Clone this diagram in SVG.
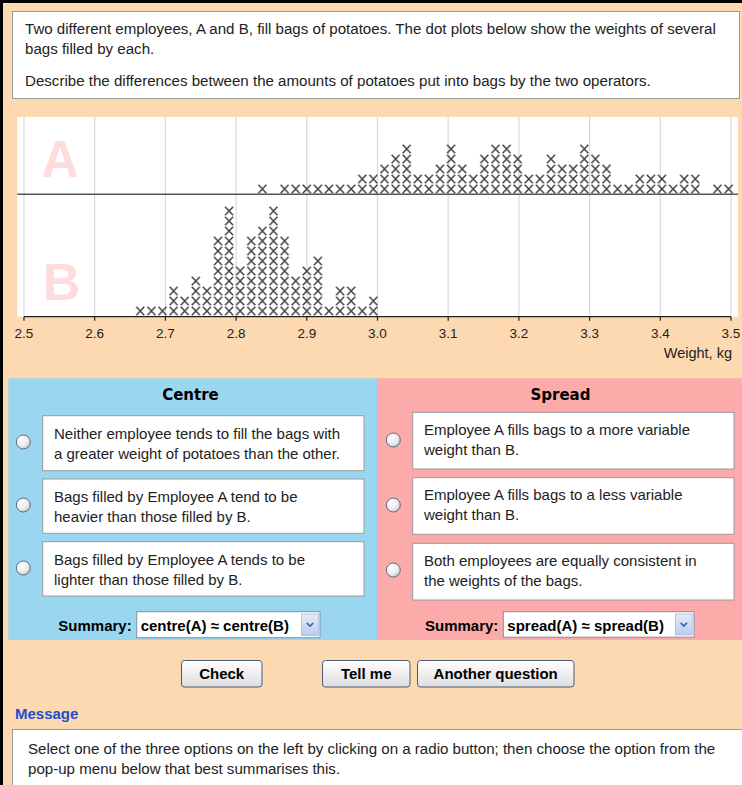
<svg xmlns="http://www.w3.org/2000/svg" width="742" height="785" viewBox="0 0 742 785">
<style>
.t{font-family:"Liberation Sans",Arial,sans-serif;font-size:15.1px;fill:#222}
.o{font-family:"Liberation Sans",Arial,sans-serif;font-size:15px;fill:#222}
.b{font-family:"Liberation Sans",Arial,sans-serif;font-size:15px;font-weight:bold;fill:#000}
.h{font-family:"DejaVu Sans",Verdana,sans-serif;font-size:15px;font-weight:bold;fill:#000}
.tk{font-family:"Liberation Sans",Arial,sans-serif;font-size:13.5px;fill:#222;text-anchor:middle}
.box{fill:#fff;stroke:#9a9a9a;stroke-width:1}
.grid{stroke:#dadada;stroke-width:1.2}
.big{font-family:"Liberation Sans",Arial,sans-serif;font-size:52px;font-weight:bold;fill:#ffdcdc;text-anchor:middle}
.radio{fill:url(#rg);stroke:#5d6d7e;stroke-width:1}
.btn{fill:url(#bg);stroke:#4a5a78;stroke-width:1}
.dd{fill:#fff;stroke:#7f8fa8;stroke-width:1}
.ddb{fill:url(#dg);stroke:#a9bbd8;stroke-width:0.8}
.chev{fill:none;stroke:#3b5da0;stroke-width:1.6}
.xa{fill:url(#xa)}
.xb{fill:url(#xb)}
</style>
<defs>
<radialGradient id="rg" cx="0.35" cy="0.3" r="0.8">
<stop offset="0" stop-color="#ffffff"/><stop offset="0.6" stop-color="#ececec"/><stop offset="1" stop-color="#bdbdbd"/>
</radialGradient>
<linearGradient id="bg" x1="0" y1="0" x2="0" y2="1">
<stop offset="0" stop-color="#ffffff"/><stop offset="1" stop-color="#dedede"/>
</linearGradient>
<linearGradient id="dg" x1="0" y1="0" x2="0" y2="1">
<stop offset="0" stop-color="#e4ecfa"/><stop offset="1" stop-color="#b9cdef"/>
</linearGradient>
<pattern id="xa" patternUnits="userSpaceOnUse" x="134.75" y="4" width="11.1" height="10">
<path d="M1.55,0.8L9.55,9.2M9.55,0.8L1.55,9.2" stroke="#444" stroke-width="1.5" fill="none"/>
</pattern>
<pattern id="xb" patternUnits="userSpaceOnUse" x="134.75" y="6" width="11.1" height="10">
<path d="M1.55,0.8L9.55,9.2M9.55,0.8L1.55,9.2" stroke="#444" stroke-width="1.5" fill="none"/>
</pattern>
</defs>

<rect x="0" y="0" width="742" height="785" fill="#fdd9b2"/>
<rect x="0" y="0" width="742" height="3" fill="#000"/>
<rect x="0" y="0" width="3" height="785" fill="#000"/>

<g id="question">
<rect class="box" x="12.5" y="11.5" width="727" height="87"/>
<text class="t" x="25" y="34">Two different employees, A and B, fill bags of potatoes. The dot plots below show the weights of several</text>
<text class="t" x="25" y="54">bags filled by each.</text>
<text class="t" x="25" y="86">Describe the differences between the amounts of potatoes put into bags by the two operators.</text>
</g>

<g id="dotplot">
<rect x="17.3" y="117" width="720.7" height="199.7" fill="#fff"/>
<g id="gridlines">
<line class="grid" x1="24" y1="117" x2="24" y2="316.7"/>
<line class="grid" x1="94.7" y1="117" x2="94.7" y2="316.7"/>
<line class="grid" x1="165.4" y1="117" x2="165.4" y2="316.7"/>
<line class="grid" x1="236.1" y1="117" x2="236.1" y2="316.7"/>
<line class="grid" x1="306.8" y1="117" x2="306.8" y2="316.7"/>
<line class="grid" x1="377.5" y1="117" x2="377.5" y2="316.7"/>
<line class="grid" x1="448.2" y1="117" x2="448.2" y2="316.7"/>
<line class="grid" x1="518.9" y1="117" x2="518.9" y2="316.7"/>
<line class="grid" x1="589.6" y1="117" x2="589.6" y2="316.7"/>
<line class="grid" x1="660.3" y1="117" x2="660.3" y2="316.7"/>
<line class="grid" x1="731" y1="117" x2="731" y2="316.7"/>
</g>
<text class="big" x="60" y="177">A</text>
<text class="big" x="61.5" y="300">B</text>
<line x1="17.3" y1="194.3" x2="738" y2="194.3" stroke="#555" stroke-width="1.6"/>

<g id="dots-A">
<rect class="xa" x="256.85" y="184" width="11.1" height="10"/>
<rect class="xa" x="279.05" y="184" width="77.7" height="10"/>
<rect class="xa" x="356.75" y="174" width="22.2" height="20"/>
<rect class="xa" x="378.95" y="164" width="11.1" height="30"/>
<rect class="xa" x="390.05" y="154" width="11.1" height="40"/>
<rect class="xa" x="401.15" y="144" width="11.1" height="50"/>
<rect class="xa" x="412.25" y="174" width="22.2" height="20"/>
<rect class="xa" x="434.45" y="164" width="11.1" height="30"/>
<rect class="xa" x="445.55" y="144" width="11.1" height="50"/>
<rect class="xa" x="456.65" y="164" width="11.1" height="30"/>
<rect class="xa" x="467.75" y="174" width="11.1" height="20"/>
<rect class="xa" x="478.85" y="154" width="11.1" height="40"/>
<rect class="xa" x="489.95" y="144" width="22.2" height="50"/>
<rect class="xa" x="512.15" y="154" width="11.1" height="40"/>
<rect class="xa" x="523.25" y="174" width="22.2" height="20"/>
<rect class="xa" x="545.45" y="154" width="11.1" height="40"/>
<rect class="xa" x="556.55" y="164" width="22.2" height="30"/>
<rect class="xa" x="578.75" y="144" width="11.1" height="50"/>
<rect class="xa" x="589.85" y="154" width="11.1" height="40"/>
<rect class="xa" x="600.95" y="164" width="11.1" height="30"/>
<rect class="xa" x="612.05" y="184" width="22.2" height="10"/>
<rect class="xa" x="634.25" y="174" width="33.3" height="20"/>
<rect class="xa" x="667.55" y="184" width="11.1" height="10"/>
<rect class="xa" x="678.65" y="174" width="22.2" height="20"/>
<rect class="xa" x="711.95" y="184" width="22.2" height="10"/>
</g>

<g id="dots-B">
<rect class="xb" x="134.75" y="306" width="33.3" height="10"/>
<rect class="xb" x="168.05" y="286" width="11.1" height="30"/>
<rect class="xb" x="179.15" y="296" width="11.1" height="20"/>
<rect class="xb" x="190.25" y="276" width="11.1" height="40"/>
<rect class="xb" x="201.35" y="286" width="11.1" height="30"/>
<rect class="xb" x="212.45" y="236" width="11.1" height="80"/>
<rect class="xb" x="223.55" y="206" width="11.1" height="110"/>
<rect class="xb" x="234.65" y="266" width="11.1" height="50"/>
<rect class="xb" x="245.75" y="236" width="11.1" height="80"/>
<rect class="xb" x="256.85" y="226" width="11.1" height="90"/>
<rect class="xb" x="267.95" y="206" width="11.1" height="110"/>
<rect class="xb" x="279.05" y="236" width="11.1" height="80"/>
<rect class="xb" x="290.15" y="276" width="11.1" height="40"/>
<rect class="xb" x="301.25" y="266" width="11.1" height="50"/>
<rect class="xb" x="312.35" y="256" width="11.1" height="60"/>
<rect class="xb" x="323.45" y="306" width="11.1" height="10"/>
<rect class="xb" x="334.55" y="286" width="22.2" height="30"/>
<rect class="xb" x="356.75" y="306" width="11.1" height="10"/>
<rect class="xb" x="367.85" y="296" width="11.1" height="20"/>
</g>

<g id="axis">
<line x1="24" y1="316.7" x2="731" y2="316.7" stroke="#222" stroke-width="1.3"/>
<path d="M24,316.7v4M94.7,316.7v4M165.4,316.7v4M236.1,316.7v4M306.8,316.7v4M377.5,316.7v4M448.2,316.7v4M518.9,316.7v4M589.6,316.7v4M660.3,316.7v4M731,316.7v4" stroke="#222" stroke-width="1.2"/>
<text class="tk" x="24" y="338">2.5</text>
<text class="tk" x="94.7" y="338">2.6</text>
<text class="tk" x="165.4" y="338">2.7</text>
<text class="tk" x="236.1" y="338">2.8</text>
<text class="tk" x="306.8" y="338">2.9</text>
<text class="tk" x="377.5" y="338">3.0</text>
<text class="tk" x="448.2" y="338">3.1</text>
<text class="tk" x="518.9" y="338">3.2</text>
<text class="tk" x="589.6" y="338">3.3</text>
<text class="tk" x="660.3" y="338">3.4</text>
<text class="tk" x="731" y="338">3.5</text>
<text class="tk" x="732" y="357.5" style="text-anchor:end;font-size:14.5px">Weight, kg</text>
</g>
</g>

<g id="centre-panel">
<rect x="8.3" y="378.3" width="368.7" height="261.7" fill="#9bd6f0"/>
<text class="h" x="190.5" y="400" text-anchor="middle">Centre</text>
<g id="centre-opt1">
<circle class="radio" cx="23.3" cy="442" r="7"/>
<rect class="box" x="42.7" y="415.7" width="321.3" height="55"/>
<text class="o" x="54" y="439">Neither employee tends to fill the bags with</text>
<text class="o" x="54" y="459">a greater weight of potatoes than the other.</text>
</g>
<g id="centre-opt2">
<circle class="radio" cx="23.3" cy="505" r="7"/>
<rect class="box" x="42.7" y="479" width="321.3" height="54.3"/>
<text class="o" x="54" y="502">Bags filled by Employee A tend to be</text>
<text class="o" x="54" y="522">heavier than those filled by B.</text>
</g>
<g id="centre-opt3">
<circle class="radio" cx="23.3" cy="568" r="7"/>
<rect class="box" x="42.7" y="541.7" width="321.3" height="54.3"/>
<text class="o" x="54" y="565">Bags filled by Employee A tends to be</text>
<text class="o" x="54" y="585">lighter than those filled by B.</text>
</g>
<g id="centre-summary">
<text class="b" x="58.3" y="631">Summary:</text>
<rect class="dd" x="136.7" y="611.7" width="183.3" height="26"/>
<text class="b" x="140.7" y="631">centre(A) ≈ centre(B)</text>
<rect class="ddb" x="301.7" y="614" width="16.6" height="21.5"/>
<path class="chev" d="M306.8,623l3.2,3.2l3.2,-3.2"/>
</g>
</g>

<g id="spread-panel">
<rect x="377" y="378.3" width="365" height="261.7" fill="#fcaaaa"/>
<text class="h" x="560.5" y="400" text-anchor="middle">Spread</text>
<g id="spread-opt1">
<circle class="radio" cx="393.3" cy="440" r="7"/>
<rect class="box" x="412.7" y="412.3" width="321.3" height="56.7"/>
<text class="o" x="424" y="435">Employee A fills bags to a more variable</text>
<text class="o" x="424" y="455">weight than B.</text>
</g>
<g id="spread-opt2">
<circle class="radio" cx="393.3" cy="505" r="7"/>
<rect class="box" x="412.7" y="477.7" width="321.3" height="56.6"/>
<text class="o" x="424" y="500.4">Employee A fills bags to a less variable</text>
<text class="o" x="424" y="520.4">weight than B.</text>
</g>
<g id="spread-opt3">
<circle class="radio" cx="393.3" cy="570" r="7"/>
<rect class="box" x="412.7" y="543.3" width="321.3" height="56.7"/>
<text class="o" x="424" y="566">Both employees are equally consistent in</text>
<text class="o" x="424" y="586">the weights of the bags.</text>
</g>
<g id="spread-summary">
<text class="b" x="425" y="631">Summary:</text>
<rect class="dd" x="503.3" y="611.7" width="190.7" height="25.5"/>
<text class="b" x="507.3" y="631">spread(A) ≈ spread(B)</text>
<rect class="ddb" x="675.5" y="614" width="16.6" height="21"/>
<path class="chev" d="M680.6,622.8l3.2,3.2l3.2,-3.2"/>
</g>
</g>

<g id="buttons">
<g id="btn-check">
<rect class="btn" x="181.5" y="660.5" width="80.5" height="26.5" rx="3"/>
<text class="b" x="221.7" y="679" text-anchor="middle">Check</text>
</g>
<g id="btn-tellme">
<rect class="btn" x="322.5" y="660.5" width="87.5" height="26.5" rx="3"/>
<text class="b" x="366.2" y="679" text-anchor="middle">Tell me</text>
</g>
<g id="btn-another">
<rect class="btn" x="417.5" y="660.5" width="156.5" height="26.5" rx="3"/>
<text class="b" x="495.7" y="679" text-anchor="middle">Another question</text>
</g>
</g>

<g id="message">
<text class="b" x="15" y="719" style="fill:#1f4fcf">Message</text>
<rect class="box" x="12.5" y="729.5" width="740" height="70"/>
<text class="t" x="28" y="754">Select one of the three options on the left by clicking on a radio button; then choose the option from the</text>
<text class="t" x="28" y="774">pop-up menu below that best summarises this.</text>
</g>
</svg>
